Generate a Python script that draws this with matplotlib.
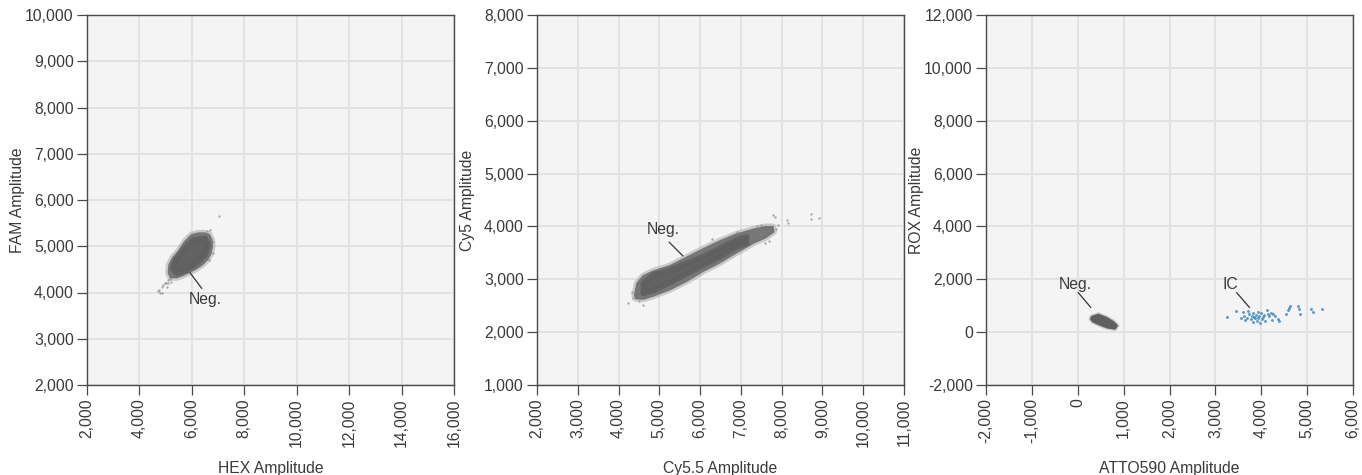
import matplotlib
matplotlib.use('Agg')
import matplotlib.pyplot as plt

plt.rcParams['font.family'] = ['Liberation Sans', 'DejaVu Sans']

# ---------------- data ----------------
# Panel 1: HEX vs FAM
p1_xlabel = "HEX Amplitude"
p1_ylabel = "FAM Amplitude"
p1_xticks = [2000, 4000, 6000, 8000, 10000, 12000, 14000, 16000]
p1_yticks = [2000, 3000, 4000, 5000, 6000, 7000, 8000, 9000, 10000]
p1_neg_outer_x = [5993, 6247, 6502, 6667, 6756, 6769, 6718, 6591, 6413, 6184, 5929, 5675, 5421, 5192,
                  5115, 5141, 5268, 5484, 5739]
p1_neg_outer_y = [5243, 5279, 5279, 5243, 5135, 4991, 4847, 4717, 4616, 4523, 4450, 4378, 4328, 4328,
                  4429, 4595, 4739, 4883, 5099]
p1_neg_core_x = [6057, 6502, 6629, 6502, 6184, 5802, 5421, 5268, 5395, 5675]
p1_neg_core_y = [5135, 5171, 5027, 4811, 4631, 4487, 4414, 4523, 4703, 4919]
p1_out_x = [6565, 6693, 6820, 6795, 4975, 4848, 4759, 5039, 5192, 6667, 5103, 5014, 4912, 5166,
            7049, 4721, 4785, 5090, 4850]
p1_out_y = [5337, 5351, 5099, 4847, 4198, 4112, 4054, 4112, 4234, 4703, 4270, 4213, 4162, 4299,
            5661, 4040, 4000, 4200, 3990]

# Panel 2: Cy5.5 vs Cy5
p2_xlabel = "Cy5.5 Amplitude"
p2_ylabel = "Cy5 Amplitude"
p2_xticks = [2000, 3000, 4000, 5000, 6000, 7000, 8000, 9000, 10000, 11000]
p2_yticks = [1000, 2000, 3000, 4000, 5000, 6000, 7000, 8000]
p2_neg_outer_x = [4400, 4460, 4607, 4852, 5261, 5670, 6078, 6487, 6896, 7304, 7600, 7780, 7800,
                  7600, 7304, 6896, 6487, 6078, 5670, 5261, 4852, 4607, 4430]
p2_neg_outer_y = [2700, 2923, 3060, 3150, 3250, 3410, 3570, 3720, 3850, 3940, 3990, 3990, 3900,
                  3790, 3690, 3510, 3320, 3160, 2970, 2810, 2690, 2630, 2640]
p2_neg_core_x = [4607, 4852, 5261, 5670, 6078, 6487, 6896, 7140, 7140, 6896, 6487, 6078, 5670, 5261, 4852, 4607]
p2_neg_core_y = [2923, 3081, 3175, 3302, 3428, 3585, 3743, 3806, 3680, 3617, 3428, 3270, 3100, 2936, 2785, 2734]
p2_out_x = [4240, 4350, 4600, 7795, 7835, 8138, 8162, 8710, 8718, 8914, 7700, 7600, 7500, 7860,
            4320, 4500, 7400, 7900, 6900, 6300]
p2_out_y = [2545, 2640, 2520, 4216, 4172, 4122, 4059, 4229, 4141, 4166, 3720, 3680, 4030, 3950,
            2760, 2580, 4000, 4020, 3900, 3770]

# Panel 3: ATTO590 vs ROX
p3_xlabel = "ATTO590 Amplitude"
p3_ylabel = "ROX Amplitude"
p3_xticks = [-2000, -1000, 0, 1000, 2000, 3000, 4000, 5000, 6000]
p3_yticks = [-2000, 0, 2000, 4000, 6000, 8000, 10000, 12000]
p3_neg_x = [303, 449, 630, 776, 863, 812, 630, 449, 325, 282]
p3_neg_y = [586, 674, 548, 397, 245, 119, 170, 296, 397, 497]
p3_ic_x = [3246, 3450, 3552, 3595, 3624, 3646, 3682, 3719, 3740, 3770, 3791, 3813, 3828, 3850, 3871,
           3886, 3900, 3922, 3937, 3959, 3973, 3988, 4009, 4031, 4060, 4082, 4118, 4140, 4177, 4206,
           4227, 4264, 4300, 4373, 4395, 4540, 4576, 4613, 4627, 4809, 4823, 4845, 5078, 5121, 5317]
p3_ic_y = [561, 813, 523, 750, 624, 460, 549, 801, 675, 498, 624, 397, 712, 586, 523,
           649, 422, 775, 549, 624, 334, 712, 498, 586, 649, 422, 839, 675, 624, 712,
           460, 675, 624, 498, 422, 675, 839, 927, 1002, 1002, 876, 675, 876, 776, 876]

# annotations: (label, text position, leader start, leader end)
p1_notes = [("Neg.", (6502, 3853), (6375, 4091), (5930, 4428))]
p2_notes = [("Neg.", (5090, 3933), (5244, 3700), (5573, 3446))]
p3_notes = [("Neg.", (-45, 1784), (12, 1493), (282, 940)),
            ("IC", (3334, 1784), (3465, 1493), (3740, 940))]

# ---------------- style ----------------
BG = '#f4f4f4'
GRID = '#e2e2e2'
SPINE = '#4a4a4a'
TXT = '#3a3a3a'
HALO = '#9a9a9a'
OUTER = '#747474'
CORE = '#5f5f5f'
SPECK = '#8a8a8a'
IC = '#2f7fb3'
FS = 11.3

fig = plt.figure(figsize=(13.62, 4.75), dpi=100)
lefts = [87, 537, 986]
W, H = 367 / 1362, 370 / 475
B = 90 / 475


def fmt(v):
    return f"{v:,}"


def setup(ax, xticks, yticks, xlabel, ylabel):
    ax.set_facecolor(BG)
    ax.set_xlim(xticks[0], xticks[-1])
    ax.set_ylim(yticks[0], yticks[-1])
    ax.set_xticks(xticks)
    ax.set_yticks(yticks)
    ax.set_xticklabels([fmt(v) for v in xticks], rotation=90, fontsize=FS, color=TXT)
    ax.set_yticklabels([fmt(v) for v in yticks], fontsize=FS, color=TXT)
    ax.grid(True, color=GRID, linewidth=1.4, zorder=0)
    ax.set_axisbelow(True)
    for s in ax.spines.values():
        s.set_color(SPINE)
        s.set_linewidth(1.0)
    ax.tick_params(axis='both', direction='out', length=7.5, width=0.9, color=SPINE, pad=2)
    ax.set_xlabel(xlabel, fontsize=FS, color=TXT)
    ax.set_ylabel(ylabel, fontsize=FS, color=TXT)
    ax.xaxis.set_label_coords(0.5, -0.205)
    ax.yaxis.set_label_coords(-0.168, 0.5)


def notes(ax, items):
    for label, tpos, p0, p1 in items:
        ax.text(tpos[0], tpos[1], label, fontsize=FS, color=TXT, ha='center', va='center', zorder=5)
        ax.plot([p0[0], p1[0]], [p0[1], p1[1]], color='#333333', lw=0.9, zorder=5)


def cloud(ax, ox, oy, cx, cy, sx, sy):
    ax.scatter(sx, sy, s=3, color=SPECK, alpha=0.7, lw=0, zorder=2)
    ax.fill(ox, oy, color=HALO, ec=HALO, lw=5.0, alpha=0.45, zorder=2.5, joinstyle='round')
    ax.fill(ox, oy, color=OUTER, ec=OUTER, lw=1.5, alpha=0.95, zorder=3, joinstyle='round')
    ax.fill(cx, cy, color=CORE, ec=CORE, lw=4.0, alpha=0.85, zorder=4, joinstyle='round')


axes = [fig.add_axes([l / 1362, B, W, H]) for l in lefts]

ax = axes[0]
setup(ax, p1_xticks, p1_yticks, p1_xlabel, p1_ylabel)
cloud(ax, p1_neg_outer_x, p1_neg_outer_y, p1_neg_core_x, p1_neg_core_y, p1_out_x, p1_out_y)
notes(ax, p1_notes)

ax = axes[1]
setup(ax, p2_xticks, p2_yticks, p2_xlabel, p2_ylabel)
cloud(ax, p2_neg_outer_x, p2_neg_outer_y, p2_neg_core_x, p2_neg_core_y, p2_out_x, p2_out_y)
notes(ax, p2_notes)

ax = axes[2]
setup(ax, p3_xticks, p3_yticks, p3_xlabel, p3_ylabel)
ax.fill(p3_neg_x, p3_neg_y, color=HALO, ec=HALO, lw=3.0, alpha=0.45, zorder=2.5, joinstyle='round')
ax.fill(p3_neg_x, p3_neg_y, color=CORE, ec=CORE, lw=1.0, zorder=3, joinstyle='round')
ax.scatter(p3_ic_x, p3_ic_y, s=4.5, color=IC, alpha=0.75, lw=0, zorder=3)
notes(ax, p3_notes)

fig.savefig('out.png', dpi=100, facecolor='white')
